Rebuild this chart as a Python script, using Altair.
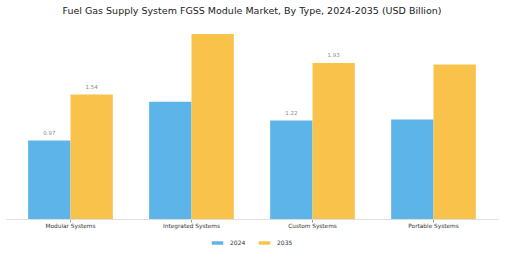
import altair as alt
import pandas as pd

categories = ["Modular Systems", "Integrated Systems", "Custom Systems", "Portable Systems"]
years = ["2024", "2035"]
values_2024 = [0.97, 1.45, 1.22, 1.23]
values_2035 = [1.54, 2.29, 1.93, 1.91]
labels_2024 = ["0.97", "", "1.22", ""]
labels_2035 = ["1.54", "", "1.93", ""]
colors = ["#5DB4E8", "#F9C34B"]

rows = []
for i, c in enumerate(categories):
    rows.append({"cat": c, "year": "2024", "value": values_2024[i], "label": labels_2024[i]})
    rows.append({"cat": c, "year": "2035", "value": values_2035[i], "label": labels_2035[i]})
df = pd.DataFrame(rows)

FONT = "DejaVu Sans"

x = alt.X("cat:N", sort=categories, title=None,
          scale=alt.Scale(paddingInner=0.3, paddingOuter=0.183),
          axis=alt.Axis(labelAngle=0, labelFontSize=5.8, labelColor="#333333", labelFont=FONT,
                        domainColor="#dddddd", tickColor="#999999", tickSize=3,
                        labelPadding=0, grid=False))
xo = alt.XOffset("year:N", sort=years, scale=alt.Scale(paddingInner=0, paddingOuter=0))
y = alt.Y("value:Q", scale=alt.Scale(domain=[0, 2.4], nice=False), axis=None)

bars = alt.Chart(df).mark_bar().encode(
    x=x, xOffset=xo, y=y,
    color=alt.Color("year:N", sort=years,
                    scale=alt.Scale(domain=years, range=colors),
                    legend=alt.Legend(title=None, orient="none", direction="horizontal",
                                      legendX=205.5, legendY=212,
                                      symbolType="M-1,-0.3L1,-0.3L1,0.3L-1,0.3Z",
                                      symbolSize=132, symbolStrokeWidth=0,
                                      labelFontSize=6, labelFont=FONT, labelColor="#333333",
                                      columnPadding=13, labelOffset=6.5)),
)

text = alt.Chart(df).mark_text(baseline="middle", dy=-7.5, fontSize=5.5, color="#888888", font=FONT).encode(
    x=x, xOffset=xo, y=y, text="label:N"
)

chart = alt.layer(bars, text).properties(
    width=492, height=194,
    background="white",
    padding={"left": 6, "top": 25, "right": 7, "bottom": 34},
    autosize=alt.AutoSizeParams(type="none"),
    title=alt.TitleParams("Fuel Gas Supply System FGSS Module Market, By Type, 2024-2035 (USD Billion)",
                          fontSize=9.5, font=FONT, fontWeight="normal", color="#222222",
                          anchor="middle", offset=9),
).configure_view(strokeWidth=0, stroke="transparent")

chart.save("out.html", embed_options={"renderer": "svg", "actions": False})
